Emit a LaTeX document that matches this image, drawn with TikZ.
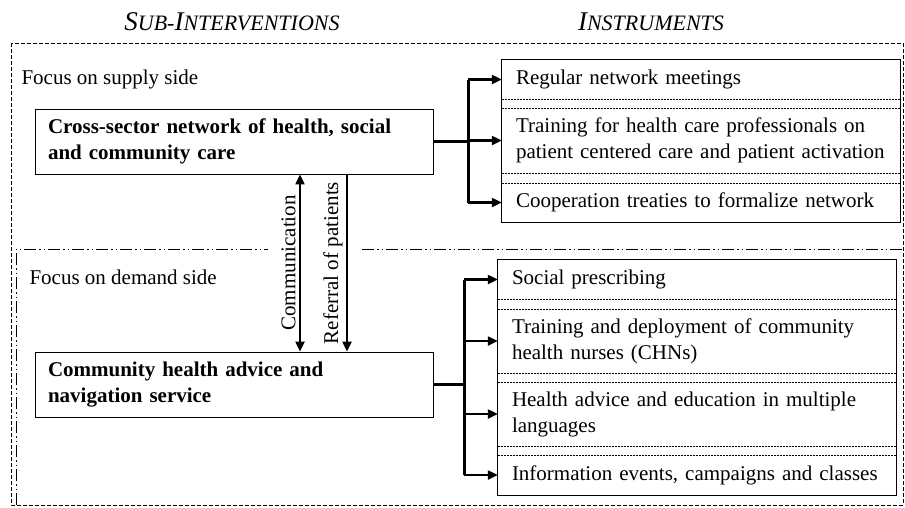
\documentclass[tikz,border=0pt]{standalone}
\usepackage{fontspec}
\setmainfont{Liberation Serif}
\usetikzlibrary{arrows.meta}

\begin{document}
\begin{tikzpicture}[x=1pt,y=-1pt,>={Triangle[length=10pt,width=9pt]},
  txt/.style={font=\fontsize{21}{26}\selectfont},
  head/.style={font=\itshape\fontsize{27}{30}\selectfont},
  sub node/.style={draw,line width=0.9pt,align=left,inner xsep=13pt,inner ysep=0pt,
    text width=372pt,minimum height=65pt,font=\bfseries\fontsize{21}{26}\selectfont},
  ins node/.style={align=left,inner xsep=14pt,inner ysep=0pt,text width=370pt,
    font=\fontsize{21}{26}\selectfont},
  sep/.style={densely dotted,line width=0.5pt},
  link/.style={line width=2.2pt},
  dashdot/.style={line width=0.9pt,dash pattern=on 12pt off 3pt on 1.5pt off 3pt on 1.5pt off 3pt}]

  \useasboundingbox (0,0) rectangle (905,507);

  % headings
  \node[head] (hsub) at (232,22) {S\fontsize{22}{30}\selectfont UB-\fontsize{27}{30}\selectfont I\fontsize{22}{30}\selectfont NTERVENTIONS};
  \node[head] (hins) at (651,22) {I\fontsize{22}{30}\selectfont NSTRUMENTS};

  % focus areas
  \draw[line width=0.9pt,dash pattern=on 4pt off 2pt] (11,43) rectangle (903,505);
  \draw[dashdot] (16,505) -- (16,249) -- (268,249);
  \draw[dashdot] (362,249) -- (903,249);
  \node[txt,anchor=base west] (fsup) at (18,84) {Focus on supply side};
  \node[txt,anchor=base west] (fdem) at (26,284) {Focus on demand side};

  % sub-interventions
  \node[sub node] (cross) at (234,141.5) {Cross-sector network of health, social\\and community care};
  \node[sub node] (comm) at (234,384.5) {Community health advice and\\navigation service};

  % instruments
  \node[ins node,minimum height=39pt] (r1) at (701,79.5) {Regular network meetings};
  \node[ins node,minimum height=65pt] (r2) at (701,140.5) {Training for health care professionals on\\patient centered care and patient activation};
  \node[ins node,minimum height=39pt] (r3) at (701,202.5) {Cooperation treaties to formalize network};

  \node[ins node,minimum height=39pt] (d1) at (697,279.5) {Social prescribing};
  \node[ins node,minimum height=64pt] (d2) at (697,341) {Training and deployment of community\\health nurses (CHNs)};
  \node[ins node,minimum height=64pt] (d3) at (697,414) {Health advice and education in multiple\\languages};
  \node[ins node,minimum height=40pt] (d4) at (697,475) {Information events, campaigns and classes};

  \draw[line width=0.9pt] (r1.north west) rectangle (r3.south east);
  \draw[line width=0.9pt] (d1.north west) rectangle (d4.south east);
  \foreach \a/\b in {r1/r2,r2/r3,d1/d2,d2/d3,d3/d4}
    \draw[sep] (\a.south west) -- (\a.south east) (\b.north west) -- (\b.north east);

  % links to instruments
  \draw[link] (cross.east) -- ++(35,0) coordinate (ja);
  \draw[link] (ja |- r1.west) -- (ja |- r3.west);
  \foreach \n in {r1,r2,r3}
    \draw[link,->] (ja |- \n.west) -- (\n.west);

  \draw[link] (comm.east) -- ++(31,0) coordinate (jb);
  \draw[link] (jb |- d1.west) -- (jb |- d4.west);
  \foreach \n in {d1,d2,d3,d4}
    \draw[link,->] (jb |- \n.west) -- (\n.west);

  % between the sub-interventions
  \draw[link,<->] ([xshift=66pt]comm.north) -- node[txt,sloped,above] {Communication} ([xshift=66pt]cross.south);
  \draw[link,<-] ([xshift=113pt]comm.north) -- node[txt,sloped,above] {Referral of patients} ([xshift=113pt]cross.south);

\end{tikzpicture}
\end{document}
